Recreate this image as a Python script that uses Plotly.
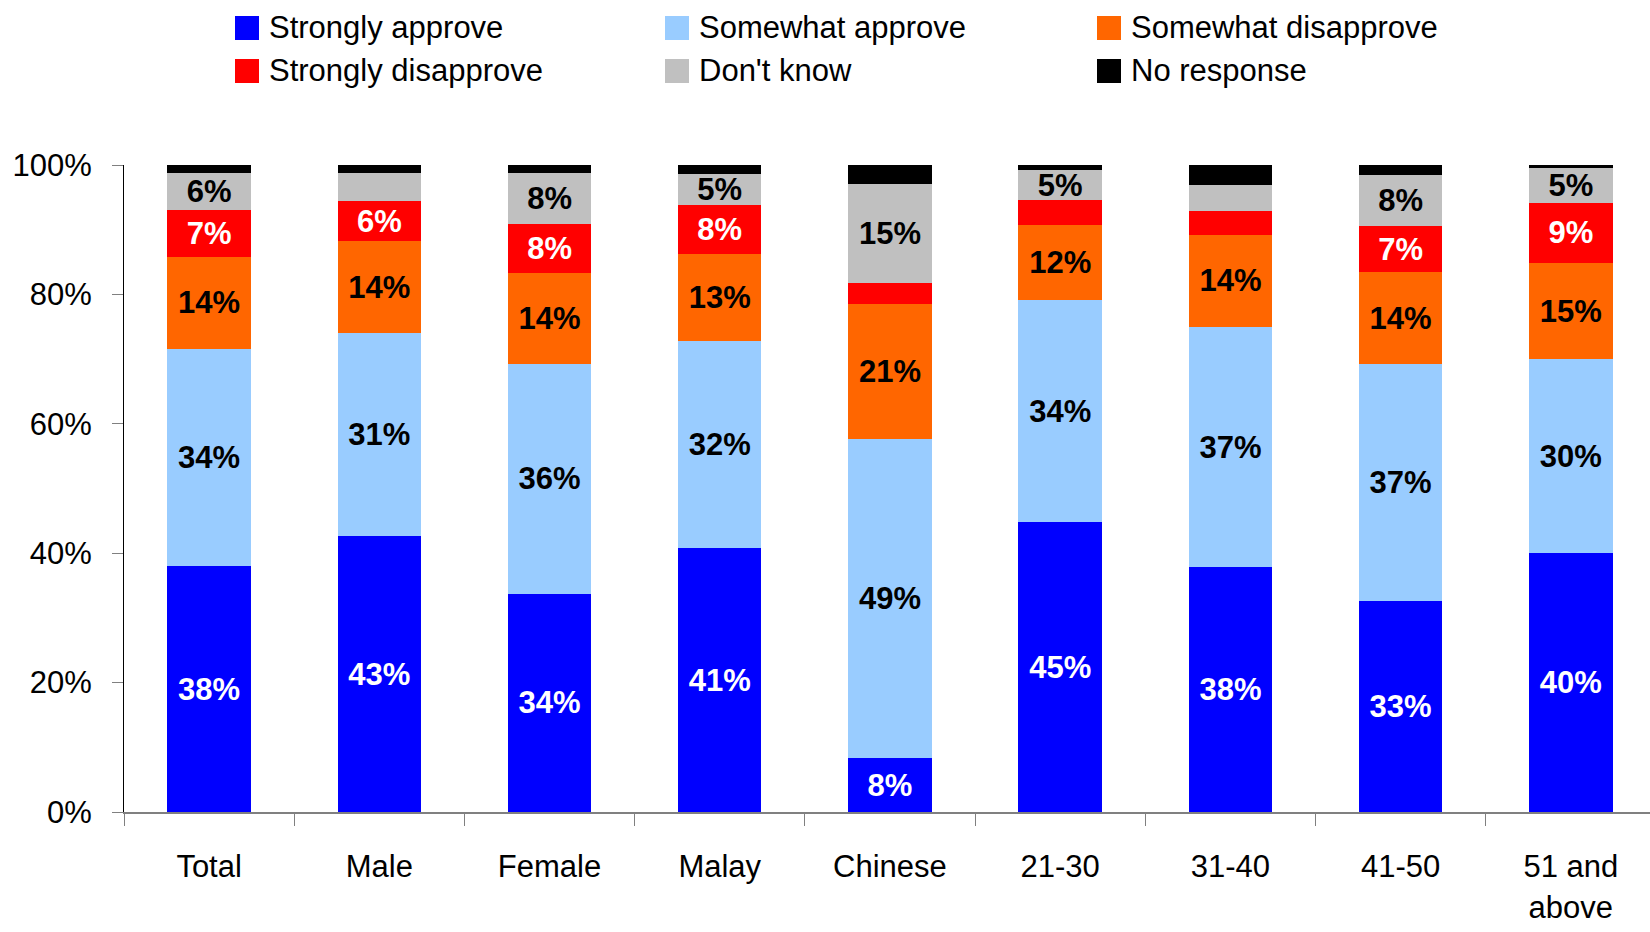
import plotly.graph_objects as go

# Survey responses by group (percent of respondents)
categories = ["Total", "Male", "Female", "Malay", "Chinese",
              "21-30", "31-40", "41-50", "51 and<br>above"]

strongly_approve    = [38.0, 42.6, 33.7, 40.8,  8.3, 44.8, 37.8, 32.6, 40.0]
somewhat_approve    = [33.6, 31.4, 35.6, 32.0, 49.3, 34.3, 37.2, 36.6, 30.0]
somewhat_disapprove = [14.2, 14.2, 14.0, 13.4, 20.9, 11.6, 14.2, 14.2, 14.8]
strongly_disapprove = [ 7.2,  6.2,  7.6,  7.6,  3.2,  3.9,  3.7,  7.2,  9.4]
dont_know           = [ 5.8,  4.3,  7.9,  4.8, 15.4,  4.6,  4.0,  7.9,  5.4]
no_response         = [ 1.2,  1.3,  1.2,  1.4,  2.9,  0.8,  3.1,  1.5,  0.4]

series_names = ["Strongly approve", "Somewhat approve", "Somewhat disapprove",
                "Strongly disapprove", "Don't know", "No response"]
series_values = [strongly_approve, somewhat_approve, somewhat_disapprove,
                 strongly_disapprove, dont_know, no_response]
series_colors = ["#0000FF", "#99CCFF", "#FF6600", "#FF0000", "#C0C0C0", "#000000"]
label_colors = ["#FFFFFF", "#000000", "#000000", "#FFFFFF", "#000000", None]

FONT = "Liberation Sans, Arial, sans-serif"
FS = 31

fig = go.Figure()
for name, vals, col, lcol in zip(series_names, series_values, series_colors, label_colors):
    if lcol is None:
        texts = [""] * len(vals)
    else:
        texts = [f"{v:.0f}%" if round(v) >= 5 else "" for v in vals]
    fig.add_trace(go.Bar(
        name=name, x=categories, y=vals, width=0.49,
        marker=dict(color=col, line=dict(width=0)),
        text=texts, textposition="inside", insidetextanchor="middle",
        textangle=0, constraintext="none",
        textfont=dict(family=FONT, size=FS, color=lcol or "#000000", weight="bold"),
        showlegend=False, hoverinfo="skip",
    ))

# Plot-area geometry in pixels (used to place the legend in paper units)
L, R, T, B = 124, 1650, 165, 812
W, H = R - L, B - T


def px_x(p):
    return (p - L) / W


def px_y(p):
    return (B - p) / H


legend_cols = [235, 665, 1097]
legend_rows = [28, 71]
sq = 24
shapes, annotations = [], []
for i, (name, col) in enumerate(zip(series_names, series_colors)):
    cx = legend_cols[i % 3]
    cy = legend_rows[i // 3]
    shapes.append(dict(type="rect", xref="paper", yref="paper",
                       x0=px_x(cx), x1=px_x(cx + sq),
                       y0=px_y(cy + sq / 2), y1=px_y(cy - sq / 2),
                       fillcolor=col, line=dict(width=0)))
    annotations.append(dict(xref="paper", yref="paper", x=px_x(cx + sq + 8), y=px_y(cy),
                            xanchor="left", yanchor="middle", showarrow=False,
                            text=name, font=dict(family=FONT, size=FS, color="#000000")))

fig.update_layout(
    width=1650, height=932,
    margin=dict(l=L, r=1650 - R, t=T, b=932 - B, pad=0),
    barmode="stack",
    plot_bgcolor="#FFFFFF", paper_bgcolor="#FFFFFF",
    font=dict(family=FONT, size=FS, color="#000000"),
    shapes=shapes, annotations=annotations,
    showlegend=False,
)
fig.update_xaxes(
    type="category", range=[-0.5, 8.465], tickson="boundaries",
    ticks="outside", ticklen=12, tickcolor="#808080", tickwidth=1,
    showline=True, linecolor="#808080", linewidth=2,
    showgrid=False, zeroline=False,
    tickfont=dict(family=FONT, size=FS, color="#000000"),
    ticklabelstandoff=26,
)
fig.update_yaxes(
    range=[0, 100], tickvals=[0, 20, 40, 60, 80, 100],
    ticktext=["0%", "20%", "40%", "60%", "80%", "100%"],
    ticks="outside", ticklen=11, tickcolor="#808080", tickwidth=1,
    showline=True, linecolor="#000000", linewidth=1,
    showgrid=False, zeroline=False,
    tickfont=dict(family=FONT, size=FS, color="#000000"),
    ticklabelstandoff=14,
)

fig.write_html("out.html")
